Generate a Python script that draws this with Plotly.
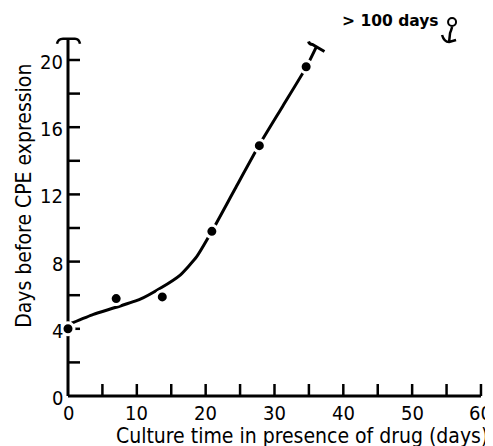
import plotly.graph_objects as go

# ---- data ----
pts_x = [0, 7.0, 13.7, 20.9, 27.8, 34.6]
pts_y = [4.0, 5.8, 5.9, 9.8, 14.9, 19.6]

curve_x = [0.5, 3.7, 7.0, 10.5, 13.4, 16.3, 18.7, 20.9, 24.3, 27.8, 31.2, 34.6, 36.1]
curve_y = [4.33, 4.86, 5.28, 5.76, 6.41, 7.2, 8.29, 9.8, 12.35, 14.95, 17.25, 19.56, 20.8]

open_x = [55.8]
open_y = [22.26]
open_label = "> 100 days"

x_ticks = [5, 10, 15, 20, 25, 30, 35, 40, 45, 50, 55, 60]
x_labels = ["0", "10", "20", "30", "40", "50", "60"]
x_label_vals = [0, 10, 20, 30, 40, 50, 60]
y_ticks = [2, 4, 6, 8, 10, 12, 14, 16, 18, 20]
y_label_vals = [0, 4, 8, 12, 16, 20]
y_labels = ["0", "4", "8", "12", "16", "20"]

x_axis_end = 60
y_axis_end = 21.2

x_title = "Culture time in presence of drug (days)"
y_title = "Days before CPE expression"

FONT = "DejaVu Sans Condensed"
BLACK = "#000000"

fig = go.Figure()

# fitted curve
fig.add_trace(go.Scatter(
    x=curve_x, y=curve_y, mode="lines",
    line=dict(color=BLACK, width=3, shape="spline", smoothing=0.5),
    hoverinfo="skip", showlegend=False))

# data points (white ring cuts line/axis like the original)
fig.add_trace(go.Scatter(
    x=pts_x, y=pts_y, mode="markers",
    marker=dict(color=BLACK, size=12, line=dict(color="white", width=3)),
    cliponaxis=False, showlegend=False))

# open point (>100 days)
fig.add_trace(go.Scatter(
    x=open_x, y=open_y, mode="markers",
    marker=dict(symbol="circle-open", color=BLACK, size=8, line=dict(color=BLACK, width=2)),
    cliponaxis=False, showlegend=False))

shapes = []
# axis lines
shapes.append(dict(type="line", xref="x", yref="y", x0=0, x1=x_axis_end, y0=0, y1=0,
                   line=dict(color=BLACK, width=3), layer="below"))
shapes.append(dict(type="line", xref="x", yref="y", x0=0, x1=0, y0=0, y1=y_axis_end,
                   line=dict(color=BLACK, width=3), layer="below"))
# x ticks (inside, upward)
for t in x_ticks:
    shapes.append(dict(type="line", xref="x", yref="y", ysizemode="pixel", yanchor=0,
                       x0=t, x1=t, y0=0, y1=12, line=dict(color=BLACK, width=2.5), layer="below"))
# y ticks (inside, rightward)
for t in y_ticks:
    shapes.append(dict(type="line", xref="x", yref="y", xsizemode="pixel", xanchor=0,
                       x0=0, x1=12, y0=t, y1=t, line=dict(color=BLACK, width=2.5), layer="below"))
# axis break symbol at top of y axis
shapes.append(dict(type="path", xref="x", yref="y", xsizemode="pixel", ysizemode="pixel",
                   xanchor=0, yanchor=y_axis_end,
                   path="M -11,-4 Q -10,1 -5,1 L 7,1 Q 11,1 12,-4",
                   line=dict(color=BLACK, width=2.5), layer="above"))
# cap at end of curve
shapes.append(dict(type="path", xref="x", yref="y", xsizemode="pixel", ysizemode="pixel",
                   xanchor=curve_x[-1], yanchor=curve_y[-1],
                   path="M -8,5 Q -7,2 -4,2 L 8,-5",
                   line=dict(color=BLACK, width=3), layer="above"))
# squiggle below open point
shapes.append(dict(type="path", xref="x", yref="y", xsizemode="pixel", ysizemode="pixel",
                   xanchor=open_x[0], yanchor=open_y[0],
                   path="M 0,-5 Q -1,-9 -2,-11 L -3,-20 M -10,-13 Q -8,-20 -3,-20 L 4,-18",
                   line=dict(color=BLACK, width=2.5), layer="above"))

annotations = []
for v, lab in zip(x_label_vals, x_labels):
    annotations.append(dict(x=v, y=0, xref="x", yref="y", text=lab, showarrow=False,
                            xanchor="center", yanchor="top", yshift=-3,
                            font=dict(family=FONT, size=20, color=BLACK)))
for v, lab in zip(y_label_vals, y_labels):
    annotations.append(dict(x=0, y=v, xref="x", yref="y", text=lab, showarrow=False,
                            xanchor="right", yanchor="middle", xshift=-3, yshift=-2,
                            font=dict(family=FONT, size=20, color=BLACK)))
annotations.append(dict(x=open_x[0], y=open_y[0], xref="x", yref="y", text=open_label,
                        showarrow=False, xanchor="right", yanchor="middle", xshift=-11, yshift=1,
                        font=dict(family="DejaVu Sans", size=15.5, color=BLACK, weight="bold")))
annotations.append(dict(x=0.576, y=-0.08, xref="paper", yref="paper", text=x_title,
                        showarrow=False, xanchor="center", yanchor="middle",
                        font=dict(family=FONT, size=21, color=BLACK)))
annotations.append(dict(x=-0.070, y=0.528, xref="paper", yref="paper", text=y_title,
                        showarrow=False, xanchor="center", yanchor="middle", textangle=-90,
                        font=dict(family=FONT, size=21, color=BLACK)))

# the page places the figure 8px in from the top-left, so size it to fill the window
fig.update_layout(
    width=485, height=438,
    margin=dict(l=46, r=9, t=2, b=42),
    paper_bgcolor="white", plot_bgcolor="white",
    xaxis=dict(range=[-2.034, 60.44], visible=False, fixedrange=True),
    yaxis=dict(range=[-0.476, 22.976], visible=False, fixedrange=True),
    shapes=shapes, annotations=annotations,
    showlegend=False,
)

fig.write_html("out.html")
